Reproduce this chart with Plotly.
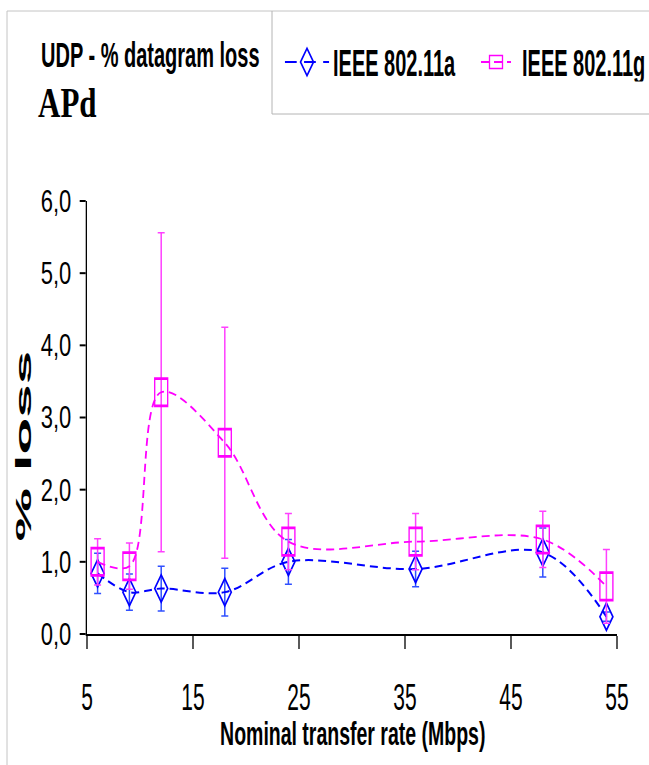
import plotly.graph_objects as go

# ---------------- data ----------------
rate_mbps = [6, 9, 12, 18, 24, 36, 48, 54]
loss_11a = [0.84, 0.58, 0.63, 0.58, 1.00, 0.90, 1.13, 0.24]
err_11a = [0.28, 0.25, 0.31, 0.33, 0.31, 0.245, 0.34, 0.065]
loss_11g = [1.00, 0.94, 3.35, 2.65, 1.28, 1.28, 1.31, 0.66]
err_11g = [0.32, 0.32, 2.21, 1.60, 0.39, 0.39, 0.39, 0.51]
x_ticks = [5, 15, 25, 35, 45, 55]
y_ticks = [0, 1, 2, 3, 4, 5, 6]
series_names = ["IEEE 802.11a", "IEEE 802.11g"]
title_text = "UDP - % datagram loss"
subtitle_text = "APd"
x_title = "Nominal transfer rate (Mbps)"
y_title = "% loss"

# ---------------- layout geometry ----------------
W, H = 649, 765
L, R, T, B = 87, 617, 201, 634


def px_x(p):
    return (p - L) / (R - L)


def px_y(p):
    return (B - p) / (B - T)


SANS = "Liberation Sans, Arial, sans-serif"
SERIF = "Liberation Serif, Times New Roman, serif"

fig = go.Figure()
fig.add_trace(go.Scatter(
    x=rate_mbps, y=loss_11a, name=series_names[0], mode="lines+markers",
    line=dict(color="#0000ff", width=2, dash="8px,5px", shape="spline", smoothing=1),
    marker=dict(symbol="diamond-open", size=10, color="#0000ff", line=dict(color="#0000ff", width=1.3)),
    error_y=dict(type="data", array=err_11a, visible=True, color="#3050ff", thickness=1.5, width=3.5),
    legend="legend",
))
fig.add_trace(go.Scatter(
    x=rate_mbps, y=loss_11g, name=series_names[1], mode="lines+markers",
    line=dict(color="#ff00ff", width=1.8, dash="8px,5px", shape="spline", smoothing=1),
    marker=dict(symbol="square-open", size=13, color="#ff00ff", line=dict(color="#ff00ff", width=1.3)),
    error_y=dict(type="data", array=err_11g, visible=True, color="#ff40ff", thickness=1.5, width=3.5),
    legend="legend2",
))

gray = "#c4c4c4"
shapes = [
    dict(type="line", xref="paper", yref="paper", x0=px_x(7), x1=px_x(680), y0=px_y(11), y1=px_y(11),
         line=dict(color=gray, width=1)),
    dict(type="line", xref="paper", yref="paper", x0=px_x(7), x1=px_x(7), y0=px_y(11), y1=px_y(800),
         line=dict(color=gray, width=1)),
    dict(type="line", xref="paper", yref="paper", x0=px_x(272), x1=px_x(272), y0=px_y(11), y1=px_y(114),
         line=dict(color="#b4b4b4", width=1)),
    dict(type="line", xref="paper", yref="paper", x0=px_x(272), x1=px_x(680), y0=px_y(114), y1=px_y(114),
         line=dict(color="#b4b4b4", width=1)),
]

annotations = [
    dict(text=title_text, xref="paper", yref="paper", x=px_x(150), y=px_y(55), xanchor="center",
         yanchor="middle", showarrow=False, font=dict(family=SANS, size=20, color="#000", weight="bold")),
    dict(text=subtitle_text, xref="paper", yref="paper", x=px_x(67), y=px_y(103), xanchor="center",
         yanchor="middle", showarrow=False, font=dict(family=SERIF, size=31, color="#000", weight="bold")),
    dict(text=x_title, xref="paper", yref="paper", x=px_x(352), y=px_y(733), xanchor="center",
         yanchor="middle", showarrow=False, font=dict(family=SANS, size=19.5, color="#000", weight="bold")),
    dict(text=y_title, xref="paper", yref="paper", x=px_x(24), y=px_y(446.5), xanchor="center",
         yanchor="middle", showarrow=False, textangle=-90,
         font=dict(family=SANS, size=22.3, color="#000", weight="bold")),
]

legend_common = dict(orientation="h", xanchor="left", yanchor="middle", bgcolor="rgba(0,0,0,0)",
                     borderwidth=0, font=dict(family=SANS, size=20, color="#000", weight="bold"),
                     itemwidth=30)

fig.update_layout(
    width=W, height=H, autosize=False,
    margin=dict(l=L, r=W - R, t=T, b=H - B, pad=0, autoexpand=False),
    paper_bgcolor="white", plot_bgcolor="white",
    separators=",.",
    showlegend=True,
    legend=dict(x=px_x(287), y=px_y(62), **legend_common),
    legend2=dict(x=px_x(476), y=px_y(62), **legend_common),
    xaxis=dict(range=[5, 55], tickvals=x_ticks, ticks="outside", ticklen=13, tickwidth=1.3, tickcolor="#000",
               showline=True, linewidth=2, linecolor="#000", showgrid=False, zeroline=False,
               tickfont=dict(family=SANS, size=21, color="#000"), ticklabelstandoff=30),
    yaxis=dict(range=[0, 6], tickvals=y_ticks, tickformat=".1f", ticks="outside", ticklen=6, tickwidth=2,
               tickcolor="#000", showline=True, linewidth=1.3, linecolor="#000", showgrid=False,
               zeroline=False, tickfont=dict(family=SANS, size=22, color="#000"), ticklabelstandoff=4),
    shapes=shapes,
    annotations=annotations,
)

post_js = r"""
document.body.style.margin = '0';
var gd = document.getElementById('{plot_id}');
gd.querySelectorAll('.crisp').forEach(function (el) {
  el.style.shapeRendering = 'auto';
});
function stretchEl(el, sx, sy, dx, dy) {
  var bb = el.getBBox();
  var cx = bb.x + bb.width / 2, cy = bb.y + bb.height / 2;
  var t = el.getAttribute('transform') || '';
  el.setAttribute('transform', t + ' translate(' + (cx + (dx || 0)) + ',' + (cy + (dy || 0)) +
    ') scale(' + sx + ',' + sy + ') translate(' + (-cx) + ',' + (-cy) + ')');
}
var rules = [
  [/^UDP/, 1, 1.72, 0, 0],
  [/^APd$/, 1, 1.33, 0, 0],
  [/^IEEE/, 1, 1.89, 6, 0],
  [/^Nominal/, 1, 1.74, 0, 0],
  [/^%/, 2.7, 1, 0, 0],
  [/^\d,\d$/, 1, 1.42, 0, 0],
  [/^\d+$/, 1, 1.78, 0, 0]
];
gd.querySelectorAll('text').forEach(function (el) {
  var s = (el.textContent || '').replace(/\u00a0/g, ' ').trim();
  for (var i = 0; i < rules.length; i++) {
    if (rules[i][0].test(s)) { stretchEl(el, rules[i][1], rules[i][2], rules[i][3], rules[i][4]); break; }
  }
});
gd.querySelectorAll('.scatterlayer path.point, .legend path.scatterpts').forEach(function (el) {
  var t = el.getAttribute('transform') || '';
  el.setAttribute('transform', t + ' scale(1,2.1)');
});
gd.querySelectorAll('.legend .legendlines path').forEach(function (el) {
  stretchEl(el, 1.47, 1, 0, 0);
});
gd.querySelectorAll('.legend .scrollbox, .legend [clip-path]').forEach(function (el) {
  el.removeAttribute('clip-path');
});
"""

fig.write_html("out.html", include_plotlyjs=True, full_html=True,
               config={"displayModeBar": False, "responsive": False, "staticPlot": True},
               post_script=post_js)
